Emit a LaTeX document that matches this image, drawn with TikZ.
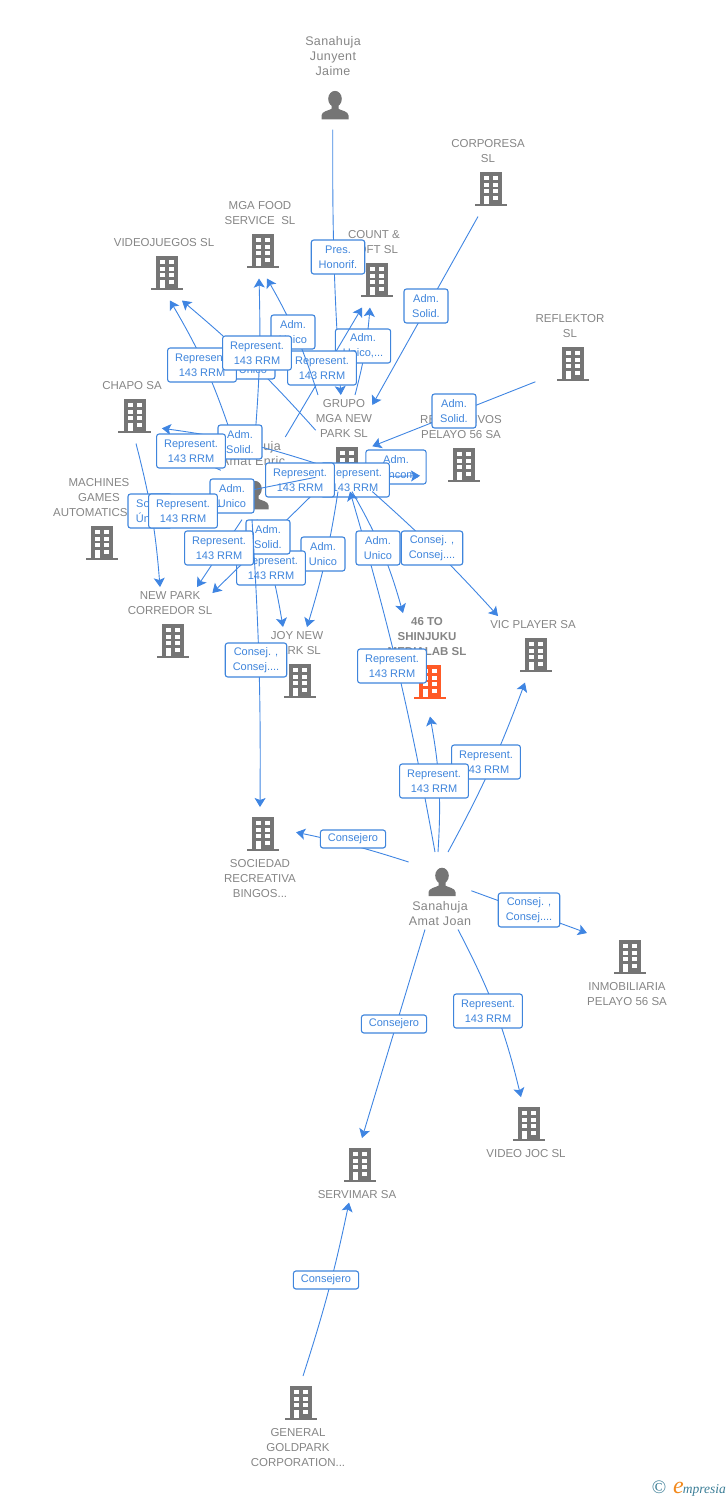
\documentclass[tikz,border=0pt]{standalone}
\usepackage{fontspec}
\setmainfont{Liberation Sans}
\newfontfamily\logofont{Liberation Serif}
\usetikzlibrary{arrows.meta}
\definecolor{conncol}{HTML}{3F85E2}
\definecolor{labcol}{HTML}{3F85DC}
\definecolor{enttext}{HTML}{858585}
\definecolor{iconcol}{HTML}{757575}
\definecolor{hotcol}{HTML}{FF5A26}
\definecolor{logoblue}{HTML}{3A7D96}
\definecolor{logoorange}{HTML}{F28A1E}
\newcommand{\bldg}[1][iconcol]{\tikz[x=1pt,y=1pt]{
	\useasboundingbox (-21,-6) rectangle (16,40);
	\fill[#1] (-16,0) rectangle (16,2);
	\fill[#1] (-11,2) rectangle (11,34);
	\foreach \r in {26,19.5,13} {
		\fill[white] (-7,\r) rectangle (-2,\r+4);
		\fill[white] (2.5,\r) rectangle (7.5,\r+4);
	}
	\fill[white] (-7,2) rectangle (-2,10.5);
	\fill[white] (2.5,6.5) rectangle (7.5,10.5);
}}
\newcommand{\persn}{\tikz[x=1pt,y=1pt]{
	\useasboundingbox (-18,-6) rectangle (14,40);
	\fill[iconcol] (-13.5,0) -- (-13.5,4) .. controls (-13.5,8) and (-6,9) .. (-3.5,10.5) -- (-3.5,14) -- (3.5,14) -- (3.5,10.5) .. controls (6,9) and (13.5,8) .. (13.5,4) -- (13.5,0) -- cycle;
	\fill[iconcol] (0,20.5) ellipse (6.8 and 8);
}}
\newcommand{\entfont}{\fontsize{11.5}{15}\selectfont\lineskip=4pt}
\newcommand{\perfont}{\addfontfeatures{LetterSpace=3}\fontsize{12.5}{15}\selectfont\lineskip=4pt}
\tikzset{
	ent/.style={anchor=north, align=center, inner xsep=0pt, inner ysep=4pt, text=enttext, font=\entfont},
	per/.style={ent, font=\perfont},
	conn/.style={draw=conncol, line width=0.9pt, -{Stealth[length=9pt,width=11pt,inset=2pt]}},
	lab/.style={draw=labcol, line width=1.1pt, fill=white, rounded corners=2.5pt, text=labcol, align=center,
		font=\fontsize{11}{15}\selectfont, minimum width=44pt, minimum height=18pt, inner xsep=7.5pt, inner ysep=1.5pt},
	labtwo/.style={lab, minimum height=34pt}
}
\begin{document}
\begin{tikzpicture}[x=1pt, y=-1pt]
	\useasboundingbox (0,0) rectangle (728,1500);
	\node[per] (junyent) at (333,32) {Sanahuja\\Junyent\\Jaime\\\persn};
	\node[ent] (corporesa) at (488,135) {CORPORESA\\SL\\\bldg};
	\node[ent] (mgafood) at (260,197) {MGA FOOD\\SERVICE\ \ SL\\\bldg};
	\node[ent] (videojuegos) at (164,234) {VIDEOJUEGOS SL\\\bldg};
	\node[ent] (countsoft) at (374,226) {COUNT \&\\SOFT SL\\\bldg};
	\node[ent] (reflektor) at (570,310) {REFLEKTOR\\SL\\\bldg};
	\node[ent] (chapo) at (132,377) {CHAPO SA\\\bldg};
	\node[ent] (machines) at (99,474) {MACHINES\\GAMES\\AUTOMATICS SL\\\bldg};
	\node[ent] (grupo) at (344,395) {GRUPO\\MGA NEW\\PARK SL\\\bldg};
	\node[ent] (recreativos) at (461,411) {RECREATIVOS\\PELAYO 56 SA\\\bldg};
	\node[per] (enric) at (253,437) {Sanahuja\\Amat Enric\\\persn};
	\node[ent] (newpark) at (170,587) {NEW PARK\\CORREDOR SL\\\bldg};
	\node[ent] (joynew) at (297,627) {JOY NEW\\PARK SL\\\bldg};
	\node[ent, font=\entfont\bfseries] (shinjuku) at (427,613) {46 TO\\SHINJUKU\\MEDIALAB SL\\\bldg[hotcol]};
	\node[ent] (vicplayer) at (533,616) {VIC PLAYER SA\\\bldg};
	\node[ent] (sociedad) at (260,807) {\bldg\\[-5pt]SOCIEDAD\\RECREATIVA\\BINGOS...};
	\node[per] (joan) at (440,852) {\persn\\[-7pt]Sanahuja\\Amat Joan};
	\node[ent] (inmobiliaria) at (627,930) {\bldg\\[-5pt]INMOBILIARIA\\PELAYO 56 SA};
	\node[ent] (videojoc) at (526,1097) {\bldg\\[-5pt]VIDEO JOC SL};
	\node[ent] (servimar) at (357,1138) {\bldg\\[-5pt]SERVIMAR SA};
	\node[ent] (goldpark) at (298,1376) {\bldg\\[-5pt]GENERAL\\GOLDPARK\\CORPORATION...};

	\draw[conn] (junyent) to[bend right=2] (grupo);
	\node[labtwo] (lb1) at (338,257) {Pres.\\Honorif.};
	\draw[conn] ([xshift=-10pt]corporesa.south) -- ([yshift=-10pt]grupo.north east);
	\node[labtwo] (lb2) at (426,306) {Adm.\\Solid.};
	\draw[conn] ([yshift=-31pt]reflektor.west) -- ([yshift=-3pt]grupo.east);
	\node[labtwo] (lb3) at (454,411) {Adm.\\Solid.};

	\draw[conn] ([xshift=11pt]grupo.north) to[bend right=5] ([xshift=-4pt]countsoft.south);
	\node[labtwo] (lb4) at (363,346) {Adm.\\Unico,...};
	\draw[conn] (enric.north east) -- ([xshift=-12pt]countsoft.south);
	\node[labtwo] (lb5) at (322,368) {Represent.\\143 RRM};
	\draw[conn] ([yshift=13pt]grupo.west) to[bend right=4] ([xshift=18pt]videojuegos.south);
	\node[labtwo] (lb6) at (253,362) {Adm.\\Unico};
	\draw[conn] ([xshift=-21pt]enric.north) to[bend right=6] ([xshift=6pt]videojuegos.south);
	\node[labtwo] (lb7) at (202,365) {Represent.\\143 RRM};
	\draw[conn] ([xshift=-26pt]grupo.north) to[bend right=6] ([xshift=7pt]mgafood.south);
	\node[labtwo] (lb8) at (293,332) {Adm.\\Unico};
	\draw[conn] ([xshift=2pt]enric.north) to[bend right=3] ([xshift=-1pt]mgafood.south);
	\node[labtwo] (lb9) at (257,353) {Represent.\\143 RRM};

	\draw[conn] ([yshift=-20pt]grupo.west) to[bend right=5] ([yshift=-18pt]chapo.east);
	\node[labtwo] (lb10) at (240,442) {Adm.\\Solid.};
	\draw[conn] ([yshift=8pt]enric.west) -- ([yshift=-33pt]chapo.east);
	\node[labtwo] (lb11) at (191,451) {Represent.\\143 RRM};

	\draw[conn] ([yshift=-32pt]grupo.east) -- ([yshift=-24pt]recreativos.west);
	\node[labtwo] (lb12) at (396,467) {Adm.\\Mancom.};
	\draw[conn] (enric.east) -- ([yshift=-24pt]recreativos.west);
	\node[labtwo] (lb13) at (355,480) {Represent.\\143 RRM};

	\draw[conn] ([xshift=-6pt]grupo.south) to[bend left=4] ([xshift=10pt]joynew.north);
	\node[labtwo] (lb14) at (323,554) {Adm.\\Unico};
	\draw[conn] ([xshift=4pt]enric.south) to[bend left=4] ([xshift=-14pt]joynew.north);
	\node[labtwo] (lb15) at (271,568) {Represent.\\143 RRM};
	\draw[conn] (grupo.south west) -- ([yshift=-6pt]newpark.north east);
	\node[labtwo] (lb16) at (268,537) {Adm.\\Solid.};
	\draw[conn] ([xshift=-11pt]enric.south) -- ([xshift=27pt]newpark.north);
	\node[labtwo] (lb17) at (219,548) {Represent.\\143 RRM};

	\node[labtwo] (lb18) at (300,480) {Represent.\\143 RRM};
	\draw[conn] ([yshift=-34pt]grupo.west) -- ([yshift=11pt]machines.east);
	\node[labtwo] (lb19) at (232,496) {Adm.\\Unico};
	\draw[conn] ([yshift=-28pt]enric.west) -- ([yshift=8pt]machines.east);
	\draw[conn] ([xshift=4pt]chapo.south) to[bend left=5] ([xshift=-10pt]newpark.north);
	\node[labtwo] (lb20) at (150,511) {Socio\\Único};
	\node[labtwo] (lb21) at (183,511) {Represent.\\143 RRM};

	\draw[conn] ([xshift=-1pt]enric.south) to[bend left=2] (sociedad.north);
	\node[labtwo] (lb22) at (256,660) {Consej. ,\\Consej....};
	\draw[conn] ([xshift=-5pt]joan.north) to[bend right=3] ([xshift=6pt]grupo.south);
	\node[labtwo] (lb23) at (392,666) {Represent.\\143 RRM};
	\draw[conn] ([xshift=8pt]grupo.south) to[bend left=7] ([xshift=-24pt]shinjuku.north);
	\node[labtwo] (lb24) at (378,548) {Adm.\\Unico};
	\draw[conn] (grupo.south east) to[bend left=3] ([xshift=-35pt]vicplayer.north);
	\node[labtwo] (lb25) at (432,548) {Consej. ,\\Consej....};

	\draw[conn] ([xshift=8pt]joan.north) to[bend right=4] ([xshift=-8pt]vicplayer.south);
	\node[labtwo] (lb26) at (486,762) {Represent.\\143 RRM};
	\draw[conn] ([xshift=-2pt]joan.north) to[bend right=7] ([shift={(3pt,-7pt)}]shinjuku.south);
	\node[labtwo] (lb27) at (434,781) {Represent.\\143 RRM};
	\draw[conn] ([yshift=-10pt]joan.north west) to[bend right=3] ([yshift=22pt]sociedad.east);
	\node[lab] (lb28) at (353,839) {Consejero};
	\draw[conn] (joan.east) -- ([yshift=-3pt]inmobiliaria.north west);
	\node[labtwo] (lb29) at (529,910) {Consej. ,\\Consej....};
	\draw[conn] ([xshift=18pt]joan.south) to[bend left=7] ([xshift=-5pt]videojoc.north);
	\node[labtwo] (lb30) at (488,1011) {Represent.\\143 RRM};
	\draw[conn] ([xshift=-15pt]joan.south) -- ([xshift=5pt]servimar.north);
	\node[lab] (lb31) at (394,1024) {Consejero};
	\draw[conn] ([xshift=5pt]goldpark.north) to[bend right=3] ([xshift=-8pt]servimar.south);
	\node[lab] (lb32) at (326,1280) {Consejero};

	\node[anchor=east, inner sep=0pt, text=logoblue, font=\logofont\itshape\fontsize{13.5}{13.5}\selectfont] (logo) at (726,1489)
		{{\upshape\fontsize{19}{19}\selectfont\textcopyright}\ \ {\color{logoorange}\fontsize{24}{24}\selectfont e}\hspace{-1pt}mpresia};
\end{tikzpicture}
\end{document}
